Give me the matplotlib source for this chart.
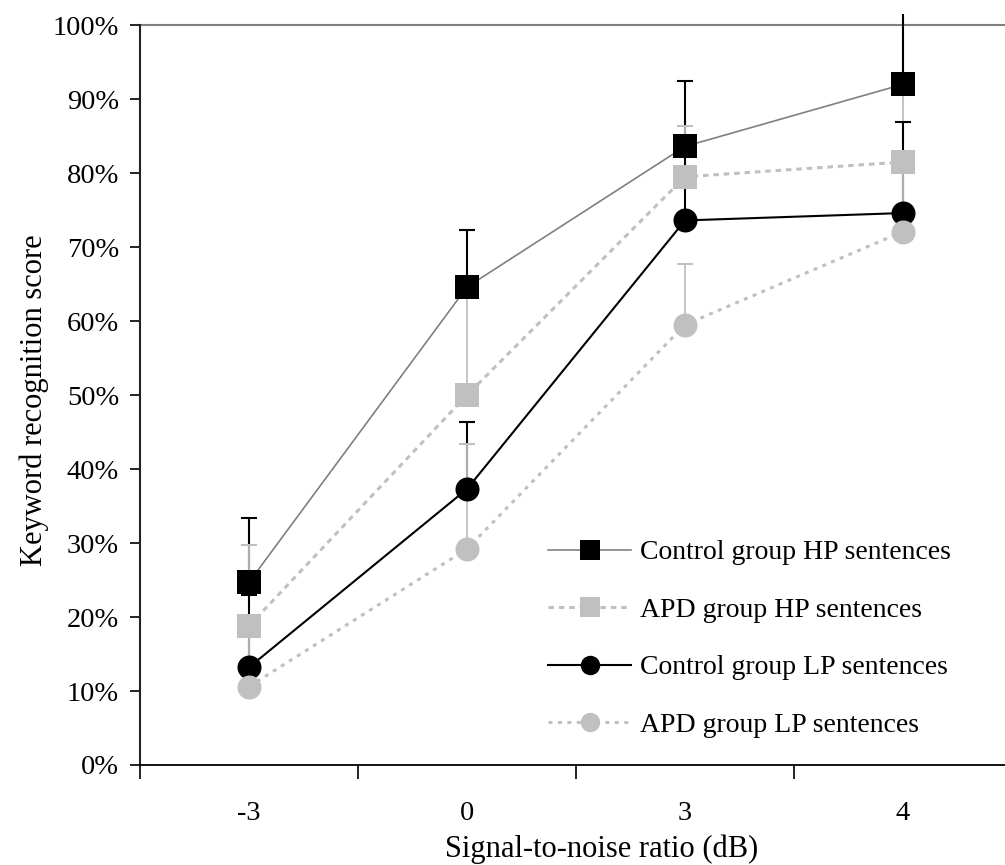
import numpy as np
import matplotlib
matplotlib.use("Agg")
import matplotlib.pyplot as plt
from matplotlib.ticker import FixedLocator, PercentFormatter

plt.rcParams['font.family'] = ['Liberation Serif', 'DejaVu Serif']

# SNR conditions (categorical x axis)
snr_labels = ['-3', '0', '3', '4']

# mean keyword recognition scores (%) and upper error bars (%)
control_hp = [24.7, 64.6, 83.6, 92.0]
control_hp_err = [8.7, 7.7, 8.9, 12.0]
apd_hp = [18.8, 50.0, 79.5, 81.5]
apd_hp_err = [11.0, 14.0, 6.9, 9.0]
control_lp = [13.2, 37.3, 73.6, 74.6]
control_lp_err = [9.8, 9.1, 10.9, 12.3]
apd_lp = [10.6, 29.2, 59.5, 72.1]
apd_lp_err = [7.4, 14.2, 8.2, 8.9]

series_names = ['Control group HP sentences', 'APD group HP sentences',
                'Control group LP sentences', 'APD group LP sentences']

x = np.arange(len(snr_labels))

fig = plt.figure(figsize=(10.05, 8.65), dpi=100)
# plot area runs a little past the right edge of the figure
ax = fig.add_axes([140 / 1005, 100 / 865, 872 / 1005, 751 / 865])

light = '#c0c0c0'
styles = [
    dict(data=control_hp, err=control_hp_err, marker='s', mc='black', lc='#808080',
         ls='-', lw=1.2, ec='black', elw=1.5),
    dict(data=apd_hp, err=apd_hp_err, marker='s', mc=light, lc=light,
         ls=(0, (1.8, 1.6)), lw=2.2, ec=light, elw=1.3),
    dict(data=control_lp, err=control_lp_err, marker='o', mc='black', lc='black',
         ls='-', lw=1.5, ec='black', elw=1.5),
    dict(data=apd_lp, err=apd_lp_err, marker='o', mc=light, lc=light,
         ls=(0, (1.3, 1.8)), lw=2.2, ec=light, elw=1.3),
]

# error bars first (upward only), then lines and markers on top
for s in styles:
    ax.errorbar(x, s['data'], yerr=[np.zeros(len(x)), s['err']], fmt='none',
                ecolor=s['ec'], elinewidth=s['elw'], capsize=5.75, capthick=1.5,
                zorder=2)

handles = []
for i, s in enumerate(styles):
    ax.plot(x, s['data'], color=s['lc'], linestyle=s['ls'], linewidth=s['lw'],
            zorder=3 + i * 0.1)
    ax.plot(x, s['data'], linestyle='none', marker=s['marker'], markersize=17.3,
            markerfacecolor=s['mc'], markeredgewidth=0, zorder=4 + i * 0.1)
    h, = ax.plot([], [], color=s['lc'], linestyle=s['ls'], linewidth=s['lw'],
                 marker=s['marker'], markersize=14, markerfacecolor=s['mc'],
                 markeredgewidth=0)
    handles.append(h)

ax.set_xlim(-0.5, 3.5)
ax.set_ylim(0, 101.5)

# top border of the plot area drawn as a gray rule at 100%
ax.axhline(100, color='#808080', linewidth=1.5, zorder=1)

for side in ['top', 'right']:
    ax.spines[side].set_visible(False)
ax.spines['left'].set_linewidth(1.5)
ax.spines['left'].set_color('#222222')
ax.spines['left'].set_bounds(0, 100)
ax.spines['bottom'].set_linewidth(1.3)

ax.yaxis.set_major_locator(FixedLocator(np.arange(0, 101, 10)))
ax.yaxis.set_major_formatter(PercentFormatter(decimals=0))
ax.tick_params(axis='y', direction='out', length=7, width=1.2, labelsize=20.5, pad=8)

ax.set_xticks(x)
ax.set_xticklabels(snr_labels)
ax.set_xticks(np.arange(-0.5, 3.6, 1.0), minor=True)
ax.tick_params(axis='x', which='major', length=0, labelsize=20.5, pad=26)
ax.tick_params(axis='x', which='minor', direction='out', length=10, width=1.2)

ax.set_xlabel('Signal-to-noise ratio (dB)', fontsize=22)
ax.xaxis.set_label_coords((602 - 140) / 872, -0.093)
ax.set_ylabel('Keyword recognition score', fontsize=22)
ax.yaxis.set_label_coords(-0.104, (765 - 400) / 751)

ax.legend(handles, series_names, loc='upper left', bbox_to_anchor=((548 - 140) / 872, (765 - 540) / 751),
          frameon=False, fontsize=20, handlelength=3.0, handletextpad=0.3,
          labelspacing=1.15, borderpad=0, borderaxespad=0)

fig.savefig('out.png', dpi=100)
